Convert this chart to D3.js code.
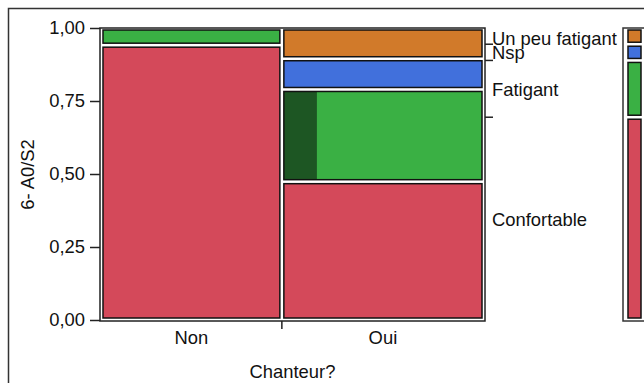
<!DOCTYPE html>
<html>
<head>
<meta charset="utf-8">
<script src="https://cdn.jsdelivr.net/npm/d3@7"></script>
<style>
  html, body { margin: 0; padding: 0; background: #fff; }
  svg { display: block; }
  text { font-family: "Liberation Sans", Arial, sans-serif; font-size: 18.4px; fill: #111; }
</style>
</head>
<body>
<svg id="chart" width="644" height="383"></svg>
<script>
// Mosaic plot: 6- A0/S2 by Chanteur?
const categories = ["Non", "Oui"];
const responses = ["Confortable", "Fatigant", "Nsp", "Un peu fatigant"];
const countsNon = [16, 1, 0, 0];
const countsOui = [9, 6, 2, 2];
// rows currently selected (highlighted) within each cell
const selectedNon = [0, 0, 0, 0];
const selectedOui = [0, 1, 0, 0];
const yTicks = [0, 0.25, 0.5, 0.75, 1];
const yTickLabels = ["0,00", "0,25", "0,50", "0,75", "1,00"];
const yTitle = "6- A0/S2";
const xTitle = "Chanteur?";

const colors = ["#d4495a", "#3ab044", "#4170dc", "#d17a2a"];
const selColors = ["#7a2230", "#1d5623", "#233f80", "#7a4515"];

const counts = [countsNon, countsOui];
const selected = [selectedNon, selectedOui];

const svg = d3.select("#chart");

// outer panel frame
svg.append("path")
  .attr("d", "M8.5,400 V8.5 H660")
  .attr("fill", "none").attr("stroke", "#333").attr("stroke-width", 1.5);

const plot = { left: 100, right: 485, top: 28, bottom: 321 };
const x = d3.scaleLinear().domain([0, 1]).range([101, 484]);
const y = d3.scaleLinear().domain([0, 1]).range([320, 28]);

// plot frame
svg.append("rect")
  .attr("x", plot.left).attr("y", plot.top)
  .attr("width", plot.right - plot.left).attr("height", plot.bottom - plot.top)
  .attr("fill", "none").attr("stroke", "#222").attr("stroke-width", 1.5);

// column widths from category totals
const totals = counts.map(c => d3.sum(c));
const grand = d3.sum(totals);
const colStart = [];
let acc = 0;
totals.forEach(t => { colStart.push(acc); acc += t / grand; });

const inset = 2;
counts.forEach((col, ci) => {
  const x0 = x(colStart[ci]) + inset;
  const x1 = x(colStart[ci] + totals[ci] / grand) - inset;
  let cum = 0;
  col.forEach((n, ri) => {
    if (n === 0) return;
    const p0 = cum / totals[ci], p1 = (cum + n) / totals[ci];
    cum += n;
    const y0 = y(p1) + inset, y1 = y(p0) - inset;
    svg.append("rect")
      .attr("x", x0).attr("y", y0).attr("width", x1 - x0).attr("height", y1 - y0)
      .attr("fill", colors[ri]);
    const s = selected[ci][ri];
    if (s > 0) {
      svg.append("rect")
        .attr("x", x0).attr("y", y0).attr("width", (x1 - x0) * s / n).attr("height", y1 - y0)
        .attr("fill", selColors[ri]);
    }
    svg.append("rect")
      .attr("x", x0).attr("y", y0).attr("width", x1 - x0).attr("height", y1 - y0)
      .attr("fill", "none").attr("stroke", "#111").attr("stroke-width", 1.5);
  });
});

// left axis
const yAxis = d3.axisLeft(y)
  .tickValues(yTicks)
  .tickFormat((d, i) => yTickLabels[i])
  .tickSize(10).tickSizeOuter(0).tickPadding(5);
const gy = svg.append("g").attr("transform", `translate(${plot.left},0)`).call(yAxis);
gy.select(".domain").remove();
gy.selectAll("line").attr("stroke", "#222").attr("stroke-width", 1.5);
gy.selectAll("text").attr("font-size", "18.4px").attr("fill", "#111")
  .attr("font-family", "'Liberation Sans', Arial, sans-serif");

// x axis: tick at column boundary, labels centred under columns
colStart.slice(1).forEach(s => {
  svg.append("line")
    .attr("x1", x(s)).attr("x2", x(s)).attr("y1", plot.bottom).attr("y2", plot.bottom + 8)
    .attr("stroke", "#222").attr("stroke-width", 1.5);
});
categories.forEach((c, ci) => {
  const cx = x(colStart[ci] + totals[ci] / grand / 2);
  svg.append("text").attr("x", cx).attr("y", 344)
    .attr("text-anchor", "middle").text(c);
});

// titles
svg.append("text").attr("x", (plot.left + plot.right) / 2).attr("y", 378)
  .attr("text-anchor", "middle").text(xTitle);
svg.append("text")
  .attr("transform", `translate(34,${(plot.top + plot.bottom) / 2}) rotate(-90)`)
  .attr("text-anchor", "middle").text(yTitle);

// right axis: marginal proportions of the response
const margin = responses.map((r, ri) => d3.sum(counts, c => c[ri]) / grand);
let mcum = 0;
const segs = margin.map((m, ri) => { const s = { r: responses[ri], a: mcum, b: mcum + m, ri }; mcum += m; return s; });
segs.slice(0, -1).forEach(s => {
  svg.append("line")
    .attr("x1", plot.right).attr("x2", plot.right + 8)
    .attr("y1", y(s.b)).attr("y2", y(s.b))
    .attr("stroke", "#222").attr("stroke-width", 1.5);
});
segs.forEach(s => {
  const c = (y(s.a) + y(s.b)) / 2;
  const base = Math.max(c + 7, plot.top + 17);
  svg.append("text").attr("x", 492).attr("y", base).text(s.r);
});

// marginal strip
svg.append("rect")
  .attr("x", 623).attr("y", plot.top).attr("width", 40).attr("height", plot.bottom - plot.top)
  .attr("fill", "none").attr("stroke", "#333").attr("stroke-width", 1.5);
segs.forEach(s => {
  const y0 = y(s.b) + inset, y1 = y(s.a) - inset;
  svg.append("rect")
    .attr("x", 628).attr("y", y0).attr("width", 13).attr("height", y1 - y0)
    .attr("fill", colors[s.ri]).attr("stroke", "#111").attr("stroke-width", 1.5);
});
</script>
</body>
</html>
